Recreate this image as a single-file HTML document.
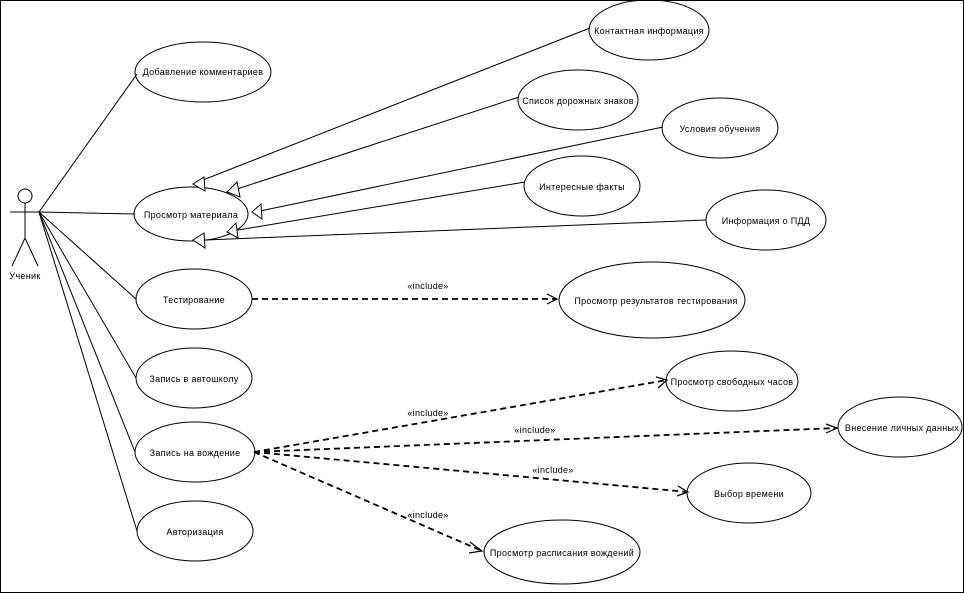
<!DOCTYPE html>
<html><head><meta charset="utf-8"><style>html,body{margin:0;padding:0;background:#fff}svg{display:block}</style></head>
<body>
<svg width="964" height="593" viewBox="0 0 964 593" xmlns="http://www.w3.org/2000/svg" font-family="'Liberation Sans','DejaVu Sans',sans-serif" font-size="9" letter-spacing="0.3">
<rect x="0.5" y="0.5" width="963" height="592" fill="#fff" stroke="#000"/>
<g stroke="#000" fill="none" stroke-width="1">
<circle cx="25" cy="196" r="7"/>
<line x1="25" y1="203" x2="25" y2="238"/>
<line x1="10" y1="212" x2="40" y2="212"/>
<line x1="25" y1="238" x2="12" y2="266"/>
<line x1="25" y1="238" x2="38" y2="266"/>
<line x1="39" y1="212" x2="137" y2="74"/>
<line x1="39" y1="212" x2="135" y2="214"/>
<line x1="39" y1="212" x2="136" y2="299"/>
<line x1="39" y1="212" x2="136" y2="378"/>
<line x1="39" y1="212" x2="135" y2="452"/>
<line x1="39" y1="212" x2="137" y2="531"/>
<line x1="590" y1="28" x2="203" y2="180"/>
<line x1="519" y1="97" x2="237" y2="189"/>
<line x1="663" y1="127" x2="260" y2="211"/>
<line x1="525" y1="182" x2="238" y2="230"/>
<line x1="706" y1="220" x2="205" y2="240"/>
<ellipse cx="203" cy="72" rx="68" ry="30"/>
<ellipse cx="191" cy="214" rx="57" ry="27"/>
<ellipse cx="194" cy="299" rx="58" ry="30"/>
<ellipse cx="194" cy="378" rx="58" ry="30"/>
<ellipse cx="195" cy="452" rx="60" ry="30"/>
<ellipse cx="195" cy="531" rx="58" ry="30"/>
<ellipse cx="649" cy="30" rx="60" ry="30"/>
<ellipse cx="578" cy="100" rx="60" ry="30"/>
<ellipse cx="720" cy="128" rx="58" ry="30"/>
<ellipse cx="582" cy="186" rx="58" ry="30"/>
<ellipse cx="766" cy="220" rx="60" ry="30"/>
<ellipse cx="652" cy="300" rx="93" ry="38"/>
<ellipse cx="732" cy="381" rx="66" ry="30"/>
<ellipse cx="900" cy="427" rx="62" ry="30"/>
<ellipse cx="749" cy="493" rx="62" ry="30"/>
<ellipse cx="562" cy="552" rx="78" ry="32"/>
</g>
<g stroke="#000" fill="#fff">
<polygon points="193,184 204,177 205,191"/>
<polygon points="227,192 237,182 240,197"/>
<polygon points="252,212 261,204 262,219"/>
<polygon points="227,232 236,223 238,238"/>
<polygon points="193,240 204,233 205,248"/>
</g>
<g stroke="#000" fill="none" stroke-width="1.8" stroke-dasharray="6,4">
<line x1="252" y1="299" x2="557" y2="299"/>
<line x1="254" y1="452" x2="667" y2="380"/>
<line x1="254" y1="452" x2="837" y2="428"/>
<line x1="254" y1="452" x2="688" y2="492"/>
<line x1="254" y1="452" x2="482" y2="551"/>
</g>
<g stroke="#000" fill="none" stroke-width="1.2">
<polyline points="547,294 557,299 547,304"/>
<polyline points="656,377 667,380 658,388"/>
<polyline points="826,424 837,428 826,433"/>
<polyline points="678,486 688,492 677,496"/>
<polyline points="470,542 482,551 469,553"/>
</g>
<g fill="#000" text-anchor="middle">
<text x="25" y="279">Ученик</text>
<text x="203" y="75">Добавление комментариев</text>
<text x="191" y="218">Просмотр материала</text>
<text x="194" y="303">Тестирование</text>
<text x="194" y="382">Запись в автошколу</text>
<text x="195" y="456">Запись на вождение</text>
<text x="195" y="535">Авторизация</text>
<text x="649" y="34">Контактная информация</text>
<text x="578" y="104">Список дорожных знаков</text>
<text x="720" y="132">Условия обучения</text>
<text x="582" y="190">Интересные факты</text>
<text x="766" y="224">Информация о ПДД</text>
<text x="656" y="304">Просмотр результатов тестирования</text>
<text x="732" y="385">Просмотр свободных часов</text>
<text x="902" y="431">Внесение личных данных</text>
<text x="749" y="497">Выбор времени</text>
<text x="562" y="556">Просмотр расписания вождений</text>
<text x="428" y="289">«include»</text>
<text x="428" y="416">«include»</text>
<text x="535" y="433">«include»</text>
<text x="553" y="473">«include»</text>
<text x="428" y="518">«include»</text>
</g>
</svg>
</body></html>
